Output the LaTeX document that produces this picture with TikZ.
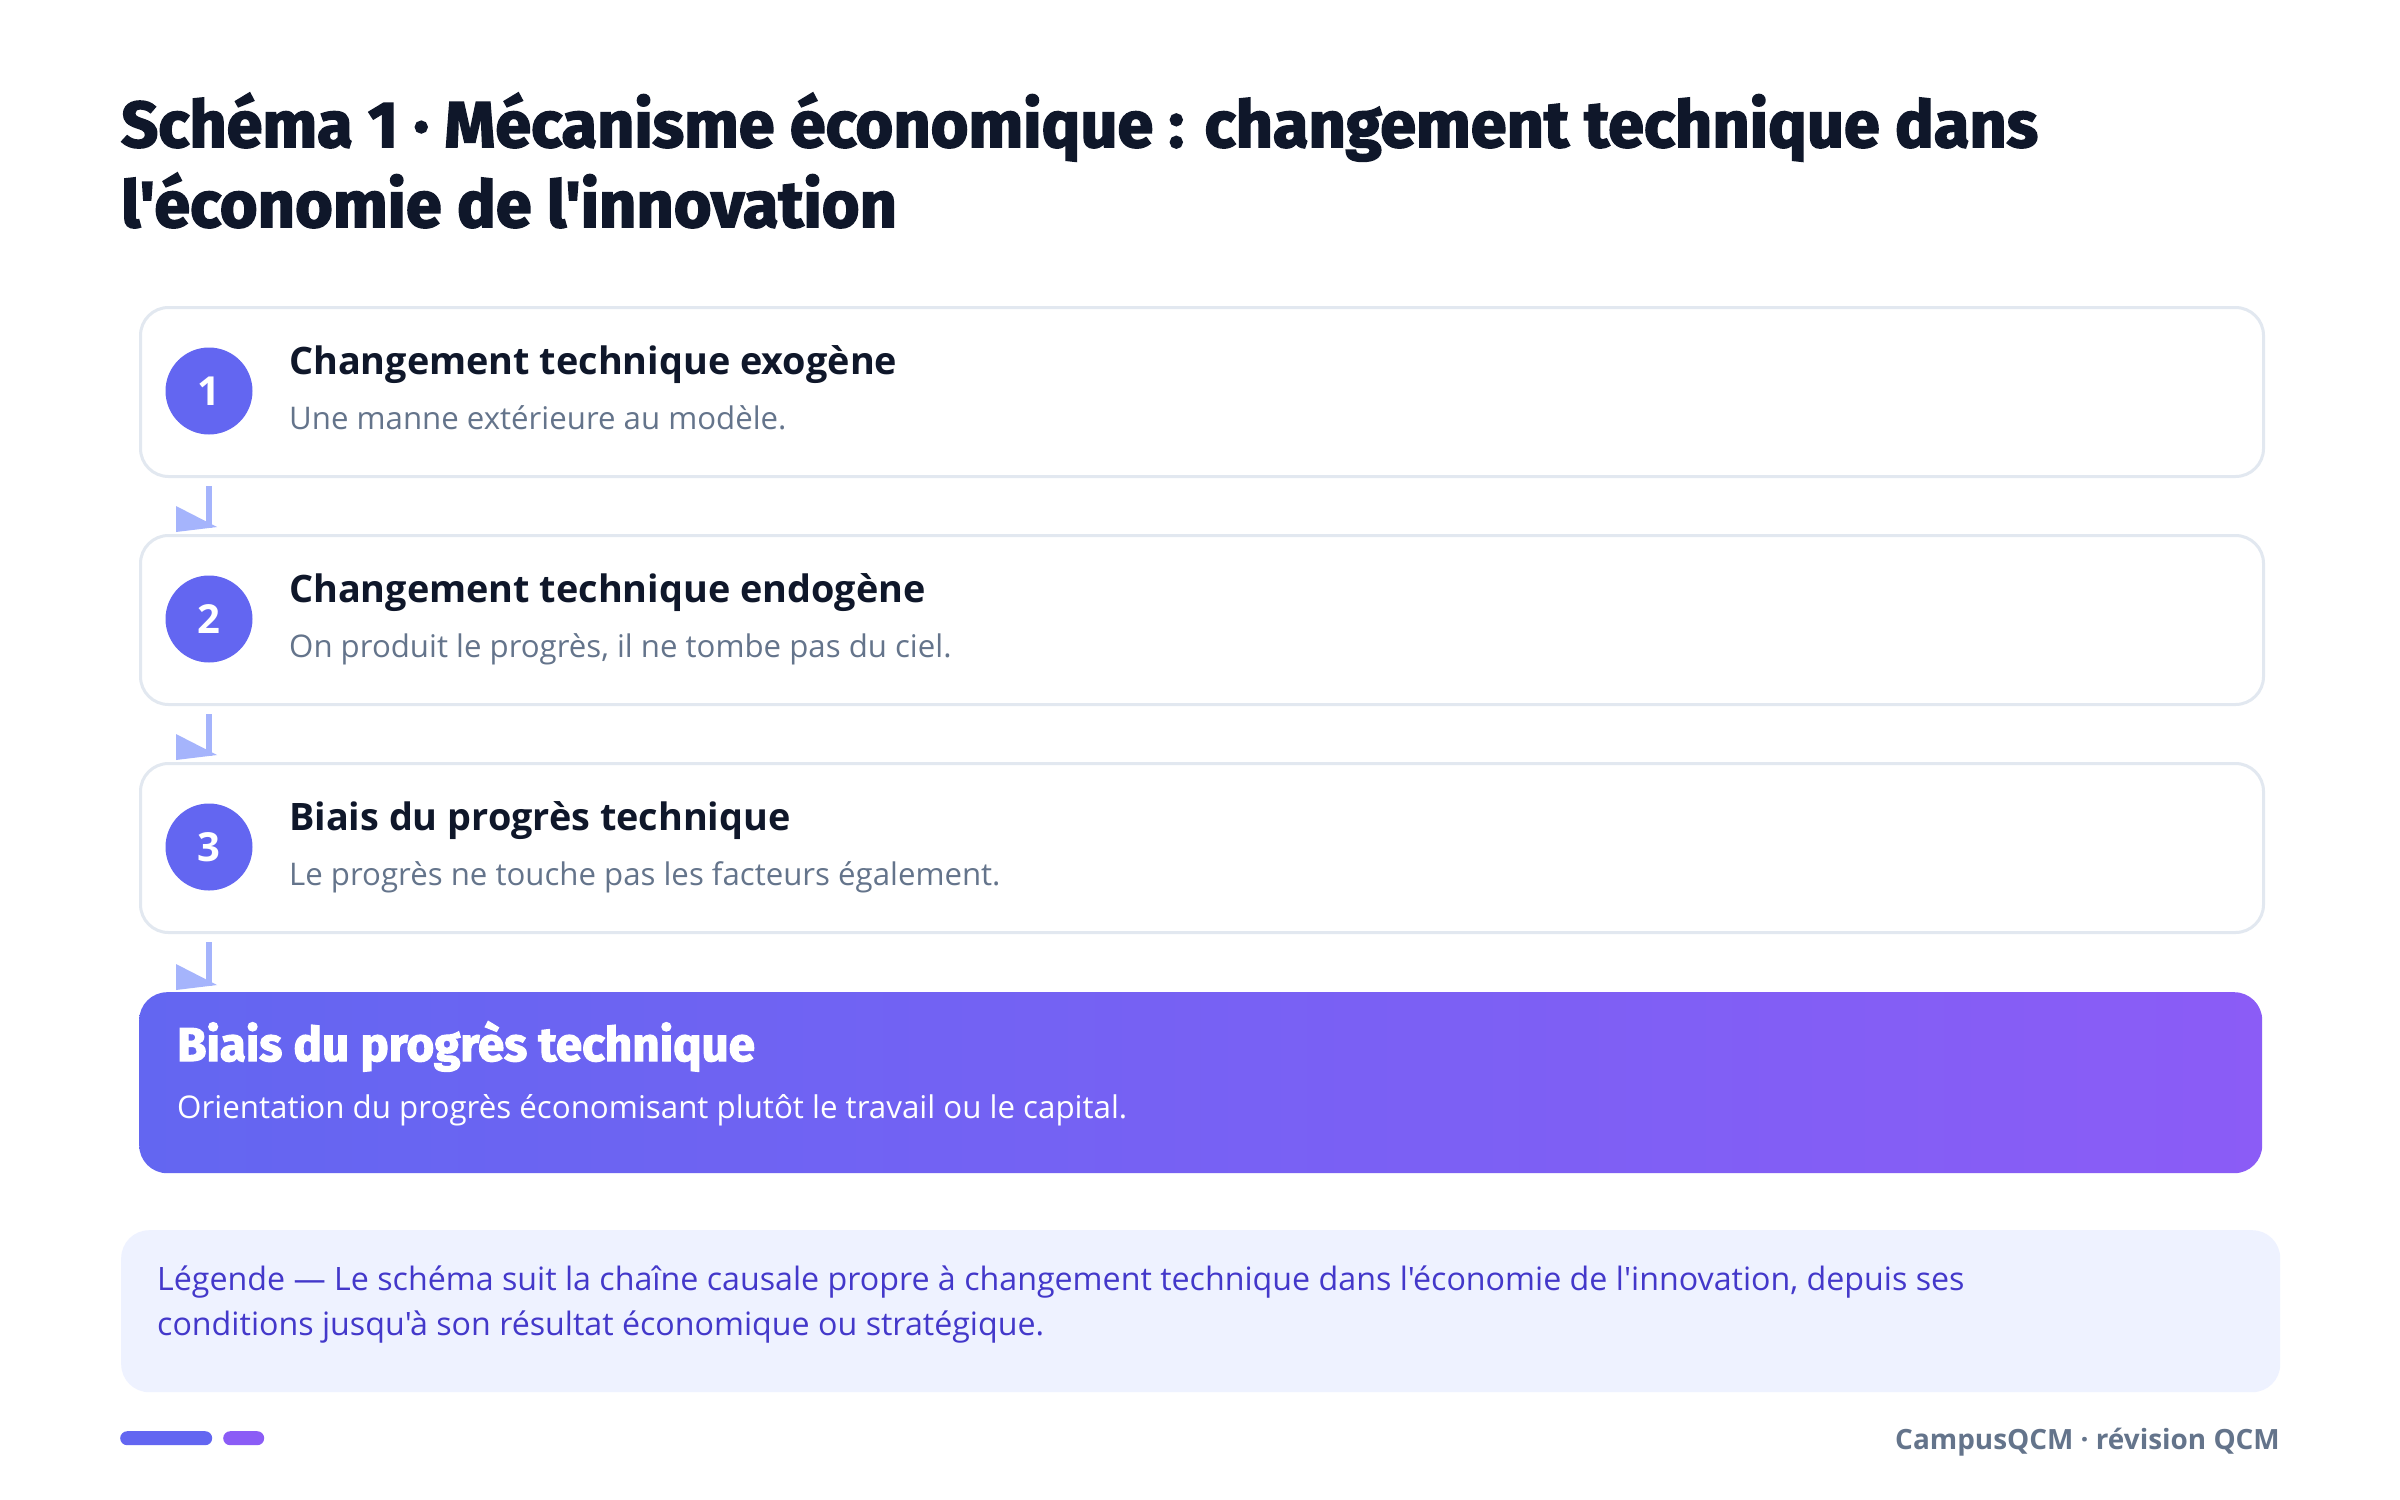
\documentclass[tikz,border=0pt]{standalone}
\usepackage{fontspec}
\setmainfont{Open Sans}[Ligatures=TeXOff]
\newfontfamily\titlefont{Fira Sans}[Ligatures=TeXOff, BoldFeatures={FakeBold=2.5}]
\definecolor{ink}{HTML}{0F172A}
\definecolor{muted}{HTML}{64748B}
\definecolor{border}{HTML}{E2E8F0}
\definecolor{indigo}{HTML}{6366F1}
\definecolor{violet}{HTML}{8B5CF6}
\definecolor{conn}{HTML}{A5B4FC}
\definecolor{legbg}{HTML}{EEF2FF}
\definecolor{legtx}{HTML}{4338CA}
\tikzset{
  stepbox/.style={draw=border, line width=3pt, fill=white, rounded corners=28pt,
    minimum width=2123pt, minimum height=169pt, anchor=north west, inner sep=0pt},
  numdot/.style={circle, fill=indigo, minimum size=87pt, inner sep=0pt, text=white,
    font=\bfseries\fontsize{40}{40}\selectfont},
  ttl/.style={anchor=base west, inner sep=0pt, text=ink, font=\bfseries\fontsize{37.8}{44}\selectfont},
  sub/.style={anchor=base west, inner sep=0pt, text=muted, font=\fontsize{31.2}{36}\selectfont},
  connline/.style={draw=conn, line width=6pt},
  conntip/.style={fill=conn},
  bigtitle/.style={anchor=base west, inner sep=0pt, text=ink, font=\titlefont\bfseries\fontsize{64.8}{80}\selectfont},
  txt/.style={anchor=base west, inner sep=0pt},
}
\begin{document}
\begin{tikzpicture}[x=1pt, y=-1pt]
\useasboundingbox (0,0) rectangle (2400,1499);
\fill[white] (0,0) rectangle (2400,1499);

% title
\node[bigtitle] (title1) at (121,147) {Schéma 1 · Mécanisme économique : changement technique dans};
\node[bigtitle] (title2) at (121,227) {l'économie de l'innovation};

% step boxes
\node[stepbox] (b1) at (139,306) {};
\node[stepbox] (b2) at (139,534) {};
\node[stepbox] (b3) at (139,762) {};

\node[numdot] (c1) at (209,391) {1};
\node[numdot] (c2) at (209,619) {2};
\node[numdot] (c3) at (209,847) {3};

\node[ttl] (t1) at (289,374) {Changement technique exogène};
\node[sub] (s1) at (289,429) {Une manne extérieure au modèle.};
\node[ttl] (t2) at (289,602) {Changement technique endogène};
\node[sub] (s2) at (289,657) {On produit le progrès, il ne tombe pas du ciel.};
\node[ttl] (t3) at (289,830) {Biais du progrès technique};
\node[sub] (s3) at (289,885) {Le progrès ne touche pas les facteurs également.};

% final box
\node[draw=none, rounded corners=28pt, left color=indigo, right color=violet,
  minimum width=2123pt, minimum height=181pt, anchor=north west, inner sep=0pt] (fin) at (139,992) {};
\node[txt, text=white, font=\titlefont\bfseries\fontsize{47.5}{52}\selectfont] (ft) at (177,1061) {Biais du progrès technique};
\node[txt, text=white, font=\fontsize{31.3}{36}\selectfont] (fs) at (177,1118) {Orientation du progrès économisant plutôt le travail ou le capital.};

% connectors
\path (b1.south -| c1) ++(0,8) coordinate (a1s);
\path (b2.north -| c1) ++(0,-6) coordinate (a1e);
\path (b2.south -| c1) ++(0,8) coordinate (a2s);
\path (b3.north -| c1) ++(0,-6) coordinate (a2e);
\path (b3.south -| c1) ++(0,8) coordinate (a3s);
\path (fin.north -| c1) ++(0,-6) coordinate (a3e);
\foreach \s/\e in {a1s/a1e, a2s/a2e, a3s/a3e}{
  \draw[connline] (\s) -- (\e);
  \fill[conntip] ([shift={(-33,-22)}]\e) -- ([shift={(-33,4)}]\e) -- ([shift={(8,-1)}]\e) -- cycle;
}

% legend
\node[fill=legbg, rounded corners=28pt, minimum width=2159pt, minimum height=162pt,
  anchor=north west, inner sep=0pt] (leg) at (121,1230) {};
\node[txt, text=legtx, font=\fontsize{32.2}{36}\selectfont] (l1) at (157,1290) {Légende — Le schéma suit la chaîne causale propre à changement technique dans l'économie de l'innovation, depuis ses};
\node[txt, text=legtx, font=\fontsize{32.2}{36}\selectfont] (l2) at (157,1335) {conditions jusqu'à son résultat économique ou stratégique.};

% footer
\node[fill=indigo, rounded corners=7pt, minimum width=92pt, minimum height=14pt, anchor=north west, inner sep=0pt] (bar1) at (120,1431) {};
\node[fill=violet, rounded corners=7pt, minimum width=41pt, minimum height=14pt, anchor=north west, inner sep=0pt] (bar2) at (223,1431) {};
\node[anchor=base east, inner sep=0pt, text=muted, font=\bfseries\fontsize{27.9}{32}\selectfont] (foot) at (2280,1449) {CampusQCM · révision QCM};
\end{tikzpicture}
\end{document}
